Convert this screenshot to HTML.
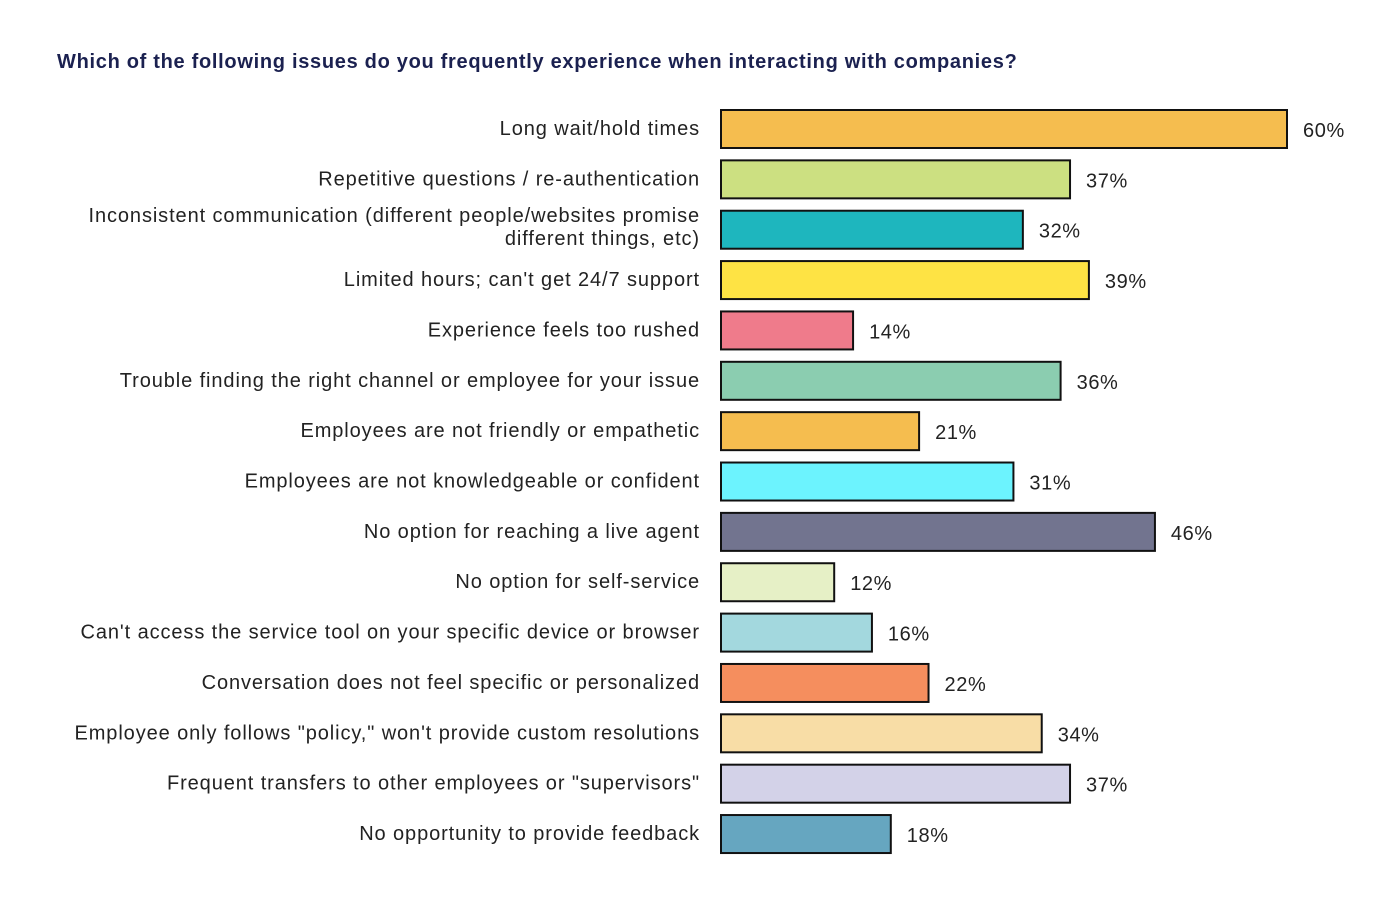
<!DOCTYPE html>
<html><head><meta charset="utf-8"><style>
body{margin:0;background:#fff;width:1373px;height:909px;overflow:hidden;font-family:"Liberation Sans",sans-serif}
#title{position:absolute;left:57px;top:51px;font-size:20px;font-weight:bold;color:#1b2150;white-space:nowrap;letter-spacing:0.7px}
</style></head><body>
<div id="title">Which of the following issues do you frequently experience when interacting with companies?</div>
<svg id="chart" width="1373" height="909" style="position:absolute;left:0;top:0"></svg>
<script>
const categories=["Long wait/hold times","Repetitive questions / re-authentication","Inconsistent communication (different people/websites promise|different things, etc)","Limited hours; can't get 24/7 support","Experience feels too rushed","Trouble finding the right channel or employee for your issue","Employees are not friendly or empathetic","Employees are not knowledgeable or confident","No option for reaching a live agent","No option for self-service","Can't access the service tool on your specific device or browser","Conversation does not feel specific or personalized","Employee only follows \"policy,\" won't provide custom resolutions","Frequent transfers to other employees or \"supervisors\"","No opportunity to provide feedback"];
const values=[60,37,32,39,14,36,21,31,46,12,16,22,34,37,18];
const colors=["#F5BD4F","#CCE081","#1EB6BE","#FEE344","#EF7B8B","#8BCDB0","#F5BD4F","#6CF3FE","#72748F","#E6F0C6","#A3D8DE","#F58E5E","#F8DDA6","#D3D2E8","#66A6C0"];
const NS="http://www.w3.org/2000/svg";
const svg=document.getElementById('chart');
const x0=721,scale=566/60;
const xs=v=>v*scale;
const ys=i=>110+i*50.36;
const bh=38;
categories.forEach((c,i)=>{
  const y=ys(i);
  const r=document.createElementNS(NS,'rect');
  
  
  r.setAttribute('x',x0);r.setAttribute('y',y);r.setAttribute('width',xs(values[i]));r.setAttribute('height',bh);
  r.setAttribute('fill',colors[i]);r.setAttribute('stroke','#111');r.setAttribute('stroke-width',2);
  svg.appendChild(r);
  const t=document.createElementNS(NS,'text');
  
  
  t.setAttribute('x',x0+xs(values[i])+16);t.setAttribute('y',y+bh/2+8);
  t.setAttribute('font-size','20');t.setAttribute('fill','#222');t.setAttribute('font-family','Liberation Sans, sans-serif');
  t.setAttribute('letter-spacing','0.6');
  t.textContent=values[i]+'%';svg.appendChild(t);
  const lines=c.split('|');
  lines.forEach((ln,j)=>{
    const l=document.createElementNS(NS,'text');
    
    
    l.setAttribute('x',700);
    const cy=y+bh/2+6-(lines.length-1)*11.5+j*23;
    l.setAttribute('y',cy-(lines.length>1?2:0));
    l.setAttribute('text-anchor','end');l.setAttribute('font-size','20');l.setAttribute('fill','#222');
    l.setAttribute('letter-spacing','0.9');
    l.setAttribute('font-family','Liberation Sans, sans-serif');
    l.textContent=ln;svg.appendChild(l);
  });
});
</script>
</body></html>
